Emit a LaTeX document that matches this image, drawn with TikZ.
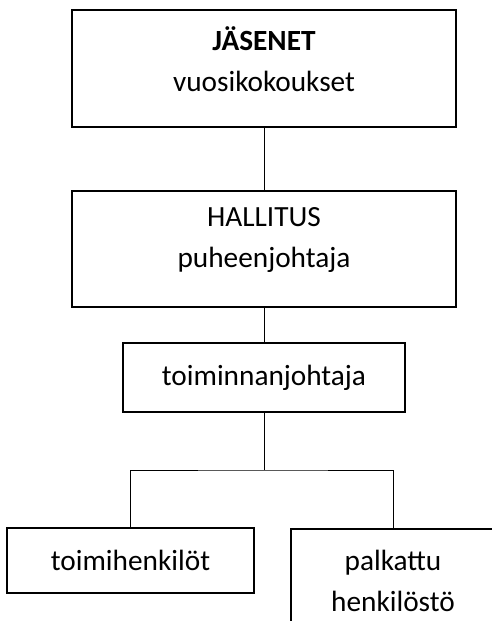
\documentclass[tikz,border=0pt]{standalone}
\usepackage{fontspec}
\setmainfont{Carlito}
\tikzset{
  laatikko/.style={draw, line width=2pt, align=center, inner sep=0pt},
  viiva/.style={line width=1pt}
}
\begin{document}
\begin{tikzpicture}[x=1pt, y=-1pt, font=\fontsize{29.3}{41}\selectfont]
  \clip (0,0) rectangle (492,621);
  \node[laatikko, minimum width=384pt, minimum height=117pt, text depth=18pt] (jasenet) at (264,68.5) {\textbf{JÄSENET}\\vuosikokoukset};
  \node[laatikko, minimum width=384pt, minimum height=116pt, text depth=23pt] (hallitus) at (264,249) {HALLITUS\\puheenjohtaja};
  \node[laatikko, minimum width=282pt, minimum height=69pt] (tj) at (264,377.5) {toiminnanjohtaja};
  \node[laatikko, minimum width=247pt, minimum height=65pt] (toimi) at (130.5,560.5) {toimihenkilöt};
  \node[laatikko, minimum width=204pt, minimum height=104pt, anchor=north] (palkattu) at (393,528) {palkattu\\henkilöstö};
  \coordinate (haara) at (264,470);
  \draw[viiva] (jasenet) -- (hallitus);
  \draw[viiva] (hallitus) -- (tj);
  \draw[viiva] (tj) -- (haara);
  \draw[viiva] (toimi.north) |- (haara) -| (palkattu.north);
\end{tikzpicture}
\end{document}
